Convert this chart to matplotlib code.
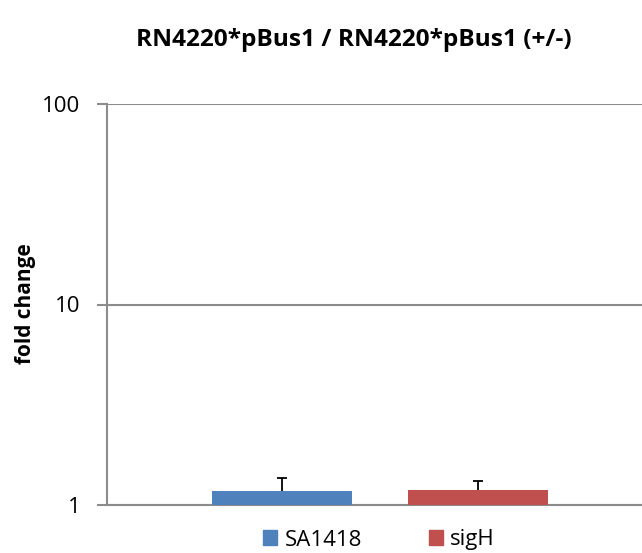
import numpy as np
import matplotlib.pyplot as plt
from matplotlib.patches import Patch

# data
series = ['SA1418', 'sigH']
values = [1.174, 1.188]
err_up = [0.185, 0.13]
colors = ['#4F81BD', '#C0504D']
yticks = [1, 10, 100]

plt.rcParams['font.family'] = ['Open Sans', 'DejaVu Sans']

fig = plt.figure(figsize=(6.42, 5.53), dpi=100)
# plot area runs past the right edge of the picture, like the reference crop
ax = fig.add_axes([107/642, 48/553, 546/642, 401/553])

offsets = [-0.1795, 0.1795]
width = 0.2564
cap = 0.0092
for i in range(len(series)):
    ax.bar(offsets[i], values[i], width=width, color=colors[i], zorder=3)
    top = values[i] + err_up[i]
    # upper error bar only, "T" shaped
    ax.vlines(offsets[i], values[i], top, color='black', linewidth=1.3, zorder=4)
    ax.hlines(top, offsets[i] - cap, offsets[i] + cap, color='black', linewidth=1.3, zorder=4)

ax.set_yscale('log')
ax.set_ylim(1, 100)
ax.set_xlim(-0.5, 0.5)
ax.set_yticks(yticks)
ax.set_yticklabels([str(t) for t in yticks])
ax.minorticks_off()
ax.set_xticks([])

ax.yaxis.grid(True, color='#8c8c8c', linewidth=1.5, zorder=0)
for s in ['top', 'right']:
    ax.spines[s].set_visible(False)
ax.spines['left'].set_color('#8c8c8c')
ax.spines['bottom'].set_color('#8c8c8c')
ax.spines['left'].set_linewidth(1.5)
ax.spines['bottom'].set_linewidth(1.5)
ax.tick_params(axis='y', length=7, width=1.5, color='#8c8c8c', labelsize=16, pad=12)

fig.text(25/642, 1 - 304/553, 'fold change', rotation=90, ha='center', va='center',
         fontsize=15, fontweight='bold')

fig.text(354/642, 1 - 40/553, 'RN4220*pBus1 / RN4220*pBus1 (+/-)',
         ha='center', va='center', fontsize=17.6, fontweight='bold')

handles = [Patch(color=c) for c in colors]
fig.legend(handles, series, loc='center', bbox_to_anchor=(379/642, 1 - 540/553),
           ncol=2, frameon=False, fontsize=16, handlelength=0.63, handleheight=0.63,
           handletextpad=0.32, columnspacing=3.0, borderpad=0, borderaxespad=0)

fig.savefig('out.png', dpi=100)
